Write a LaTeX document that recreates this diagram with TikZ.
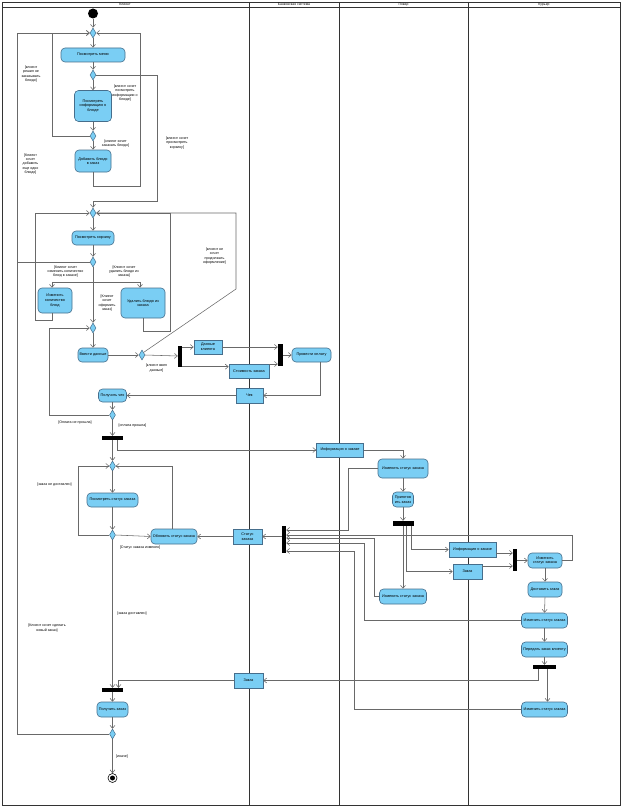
\documentclass[tikz,border=0pt]{standalone}
\usepackage{fontspec}
\setmainfont{Liberation Sans}
\usetikzlibrary{arrows.meta,shapes.geometric,calc}

\definecolor{actblue}{RGB}{122,206,244}
\definecolor{actedge}{RGB}{70,110,140}
\definecolor{flowgray}{RGB}{105,105,105}

\begin{document}
\begin{tikzpicture}[x=1pt,y=-1pt,
  act/.style={draw=actedge,fill=actblue,rounded corners=4pt,line width=0.6pt,inner sep=1pt,align=center,font=\fontsize{3.8}{4.6}\selectfont},
  obj/.style={draw=actedge,fill=actblue,line width=0.6pt,inner sep=1pt,align=center,font=\fontsize{3.8}{4.6}\selectfont},
  dec/.style={diamond,draw=actedge,fill=actblue,line width=0.5pt,inner sep=0pt,minimum width=6pt,minimum height=10pt},
  bar/.style={fill=black,inner sep=0pt},
  flow/.style={draw=flowgray,line width=0.55pt,-{Straight Barb[length=3pt,width=5pt]}},
  link/.style={draw=flowgray,line width=0.55pt},
  guard/.style={font=\fontsize{3.6}{4.4}\selectfont,align=center,inner sep=0pt},
  lane/.style={draw=black!80,line width=0.8pt},
  lanename/.style={font=\fontsize{3.4}{4}\selectfont,inner sep=0pt}]
\useasboundingbox (0,0) rectangle (623,808);

% swimlanes
\draw[lane] (2,2) rectangle (620,805);
\draw[lane] (2,7) -- (620,7);
\draw[lane] (249,2) -- (249,805);
\draw[lane] (339,2) -- (339,805);
\draw[lane] (468,2) -- (468,805);
\node[lanename] (lnclient) at (125,4.5) {Клиент};
\node[lanename] (lnbank) at (294,4.5) {Банковская система};
\node[lanename] (lncook) at (403.5,4.5) {Повар};
\node[lanename] (lncourier) at (544,4.5) {Курьер};

% client: menu and cart
\node[circle,fill=black,minimum size=10pt,inner sep=0pt] (init) at (93,13.5) {};
\node[dec] (m1) at (93,33) {};
\node[act,minimum width=64pt,minimum height=14pt] (a_menu) at (93,55) {Посмотреть меню};
\node[dec] (d2) at (93,75) {};
\node[act,minimum width=37pt,minimum height=31pt] (a_info) at (93,106) {Посмотреть\\информацию о\\блюде};
\node[dec] (d3) at (93,136) {};
\node[act,minimum width=36pt,minimum height=22pt] (a_add) at (93,161) {Добавить блюдо\\в заказ};
\node[dec] (m4) at (93,213) {};
\node[act,minimum width=42pt,minimum height=14pt] (a_cart) at (93,238) {Посмотреть корзину};
\node[dec] (d5) at (93,262) {};
\coordinate (sp) at (93,282);
\coordinate (lp) at (17,262);
\node[act,minimum width=34pt,minimum height=25pt] (a_qty) at (55,300.5) {Изменить\\количество\\блюд};
\node[act,minimum width=44pt,minimum height=30pt] (a_del) at (143,303) {Удалить блюдо из\\заказа};
\node[dec] (m6) at (93,328) {};
\node[act,minimum width=30pt,minimum height=14pt] (a_data) at (93,355) {Ввести данные};
\node[dec] (d7) at (142,355) {};

% payment
\node[bar,minimum width=4pt,minimum height=21pt] (fork1) at (180,356) {};
\node[obj,minimum width=28pt,minimum height=14pt] (o_client) at (208,347) {Данные\\клиента};
\node[obj,minimum width=40pt,minimum height=14pt] (o_cost) at (249,371) {Стоимость заказа};
\node[bar,minimum width=5pt,minimum height=22pt] (join2) at (280.5,355) {};
\node[act,minimum width=39pt,minimum height=14pt] (a_pay) at (311.5,355) {Провести оплату};
\node[obj,minimum width=27pt,minimum height=15pt] (o_check) at (249.5,395.5) {Чек};
\node[act,minimum width=28pt,minimum height=13pt] (a_getcheck) at (112.5,395.5) {Получить чек};
\node[dec] (d8) at (112.5,415) {};
\node[bar,minimum width=21pt,minimum height=4pt] (fork3) at (112.5,438) {};
\node[obj,minimum width=47pt,minimum height=14pt] (o_info1) at (340,450) {Информация о заказе};

% client: status
\node[dec] (m9) at (112.5,466) {};
\node[act,minimum width=51pt,minimum height=14pt] (a_status) at (112.5,500) {Посмотреть статус заказа};
\node[dec] (d10) at (112.5,535) {};
\node[act,minimum width=46pt,minimum height=15pt] (a_upd) at (174,536.5) {Обновить статус заказа};
\node[obj,minimum width=29pt,minimum height=15pt] (o_status) at (247.5,536.5) {Статус\\заказа};
\node[bar,minimum width=4pt,minimum height=27pt] (join4) at (284,539.5) {};

% cook
\node[act,minimum width=50pt,minimum height=19pt] (a_chg1) at (403,468.5) {Изменить статус заказа};
\node[act,minimum width=21pt,minimum height=15pt] (a_cook) at (403,499.5) {Приготов\\ить заказ};
\node[bar,minimum width=21pt,minimum height=5pt] (fork5) at (403,523.5) {};
\node[act,minimum width=47pt,minimum height=15pt] (a_chg2) at (403,596.5) {Изменить статус заказа};
\node[obj,minimum width=47pt,minimum height=15pt] (o_info2) at (472.5,549.5) {Информация о заказе};
\node[obj,minimum width=29pt,minimum height=15pt] (o_order1) at (467.5,571.5) {Заказ};

% courier
\node[bar,minimum width=4pt,minimum height=22pt] (join6) at (515,560) {};
\node[act,minimum width=34pt,minimum height=15pt] (a_c1) at (545,560.5) {Изменить\\статус заказа};
\node[act,minimum width=34pt,minimum height=15pt] (a_deliver) at (545,589.5) {Доставить заказ};
\node[act,minimum width=46pt,minimum height=15pt] (a_c2) at (544.5,620.5) {Изменить статус заказа};
\node[act,minimum width=46pt,minimum height=15pt] (a_give) at (544.5,649.5) {Передать заказ клиенту};
\node[bar,minimum width=23pt,minimum height=4pt] (fork7) at (544.5,667) {};
\node[act,minimum width=46pt,minimum height=15pt] (a_c3) at (544.5,709.5) {Изменить статус заказа};
\node[obj,minimum width=29pt,minimum height=15pt] (o_order2) at (248.5,680.5) {Заказ};

% client: end
\node[bar,minimum width=21pt,minimum height=4pt] (join8) at (112.5,690) {};
\node[act,minimum width=31pt,minimum height=15pt] (a_get) at (112.5,709.5) {Получить заказ};
\node[dec] (d11) at (112.5,734) {};
\node[circle,draw=black,line width=0.6pt,minimum size=9pt,inner sep=0pt] (final) at (112.5,778) {};
\node[circle,fill=black,minimum size=5pt,inner sep=0pt] (finaldot) at (final) {};

% guards
\node[guard] (g_notorder) at (31,74) {[клиент\\решил не\\заказывать\\блюдо]};
\node[guard] (g_info) at (125,93) {[клиент хочет\\посмотреть\\информацию о\\блюде]};
\node[guard] (g_order) at (115.5,143.5) {[клиент хочет\\заказать блюдо]};
\node[guard] (g_cart) at (177,143) {[клиент хочет\\просмотреть\\корзину]};
\node[guard] (g_more) at (30.5,164) {[Клиент\\хочет\\добавить\\еще одно\\блюдо]};
\node[guard] (g_qty) at (65.5,271.5) {[Клиент хочет\\изменить количество\\блюд в заказе]};
\node[guard] (g_del) at (124,271.5) {[Клиент хочет\\удалить блюдо из\\заказа]};
\node[guard] (g_checkout) at (107,303) {[Клиент\\хочет\\оформить\\заказ]};
\node[guard] (g_cancel) at (214.5,256) {[клиент не\\хочет\\продолжать\\оформление]};
\node[guard] (g_entered) at (156.5,368) {[клиент ввел\\данные]};
\node[guard] (g_fail) at (75,423) {[Оплата не прошла]};
\node[guard] (g_paid) at (132.5,426) {[оплата прошла]};
\node[guard] (g_notdel) at (54.5,485) {[заказ не доставлен]};
\node[guard] (g_changed) at (140,548) {[Статус заказа изменен]};
\node[guard] (g_delivered) at (132,614) {[заказ доставлен]};
\node[guard] (g_new) at (47,628) {[Клиент хочет сделать\\новый заказ]};
\node[guard] (g_else) at (122,757) {[иначе]};

% flows: menu
\draw[flow] (init) -- (m1.north);
\draw[flow] (m1.south) -- (a_menu.north);
\draw[flow] (a_menu.south) -- (d2.north);
\draw[flow] (d2.south) -- (a_info.north);
\draw[flow] (a_info.south) -- (d3.north);
\draw[flow] (d3.south) -- (a_add.north);
\draw[flow] (d3.west) -| (52,33) -- (m1.west);
\draw[flow] (a_add.south) -- (93,186) -| (140,33) -- (m1.east);
\draw[flow] (d2.east) -- (157,75) |- (93,201) -- (m4.north);
\draw[flow] (d5.west) -- (lp) -- (17,33) -- (m1.west);

% flows: cart
\draw[flow] (m4.south) -- (a_cart.north);
\draw[flow] (a_cart.south) -- (d5.north);
\draw[flow] (d5.south) -- (m6.north);
\draw[flow] (sp) -| ([xshift=-3pt]a_qty.north);
\draw[flow] (sp) -| ([xshift=-3pt]a_del.north);
\draw[flow] ([xshift=-3pt]a_qty.south) -- (52,320) -| (35,213) -- (m4.west);
\draw[flow] (a_del.south) -- (143,331) -| (170,213) -- (m4.east);
\draw[flow] (d7.north east) -- (236,289) -- (236,213) -- (m4.east);

% flows: payment
\draw[flow] (m6.south) -- (a_data.north);
\draw[flow] (a_data.east) -- (d7.west);
\draw[flow] (d7.east) -- (fork1.west);
\draw[flow] (fork1.east |- o_client.west) -- (o_client.west);
\draw[flow] (fork1.south east) -- (fork1.south east -| o_cost.west);
\draw[flow] (o_client.east) -- (o_client.east -| join2.west);
\coordinate (cq) at ([yshift=7pt]o_cost.east);
\draw[flow] (cq) -- (cq -| join2.west);
\draw[flow] (join2.east |- a_pay.west) -- (a_pay.west);
\draw[flow] ([xshift=9pt]a_pay.south) |- (o_check.east);
\draw[flow] (o_check.west) -- (a_getcheck.east);
\draw[flow] (a_getcheck.south) -- (d8.north);
\draw[flow] (d8.south) -- (fork3.north);
\draw[flow] (d8.west) -| (49,328) -- (m6.west);
\draw[flow] (fork3.south) -- (m9.north);
\draw[flow] ([xshift=5pt]fork3.south) |- (o_info1.west);
\draw[flow] (o_info1.east) -| (a_chg1.north);

% flows: status
\draw[flow] (m9.south) -- (a_status.north);
\draw[flow] (a_status.south) -- (d10.north);
\draw[flow] (d10.east) -- (a_upd.west);
\draw[flow] (d10.west) -| (78,466) -- (m9.west);
\draw[flow] ([xshift=-2pt]a_upd.north) |- (m9.east);
\draw[flow] (o_status.west) -- (a_upd.east);
\draw[flow] (join4.west |- o_status.east) -- (o_status.east);
\draw[flow] (a_chg1.west) -| (348,530) -- ([yshift=9.5pt]join4.east);
\draw[flow] (a_c1.east) -| (572,535) -- ([yshift=4.5pt]join4.east);
\draw[flow] (a_chg2.west) -| (374,538) -- ([yshift=1.5pt]join4.east);
\draw[flow] (a_c2.west) -| (364,543) -- ([yshift=-3.5pt]join4.east);
\draw[flow] (a_c3.west) -| (354,551) -- ([yshift=-11.5pt]join4.east);

% flows: cook and courier
\draw[flow] (a_chg1.south) -- (a_cook.north);
\draw[flow] (a_cook.south) -- (fork5.north);
\draw[flow] (fork5.south) -- (a_chg2.north);
\draw[flow] ([xshift=3pt]fork5.south) |- (o_order1.west);
\draw[flow] ([xshift=8pt]fork5.south) |- (o_info2.west);
\coordinate (iq) at ([yshift=-3.5pt]o_info2.east);
\draw[flow] (iq) -- (iq -| join6.west);
\coordinate (oq) at ([yshift=5.5pt]o_order1.east);
\draw[flow] (oq) -- (oq -| join6.west);
\draw[flow] (join6.east |- a_c1.west) -- (a_c1.west);
\draw[flow] (a_c1.south) -- (a_deliver.north);
\draw[flow] (a_deliver.south) -- (a_c2.north);
\draw[flow] (a_c2.south) -- (a_give.north);
\draw[flow] (a_give.south) -- (fork7.north);
\draw[flow] ([xshift=3pt]fork7.south) -- ([xshift=3pt]a_c3.north);
\draw[flow] ([xshift=-6pt]fork7.south) |- (o_order2.east);
\draw[flow] (o_order2.west) -| ([xshift=6pt]join8.north);

% flows: end
\draw[flow] (d10.south) -- (join8.north);
\draw[flow] (join8.south) -- (a_get.north);
\draw[flow] (a_get.south) -- (d11.north);
\draw[flow] (d11.south) -- (final.north);
\draw[link] (d11.west) -| (lp);
\end{tikzpicture}
\end{document}
